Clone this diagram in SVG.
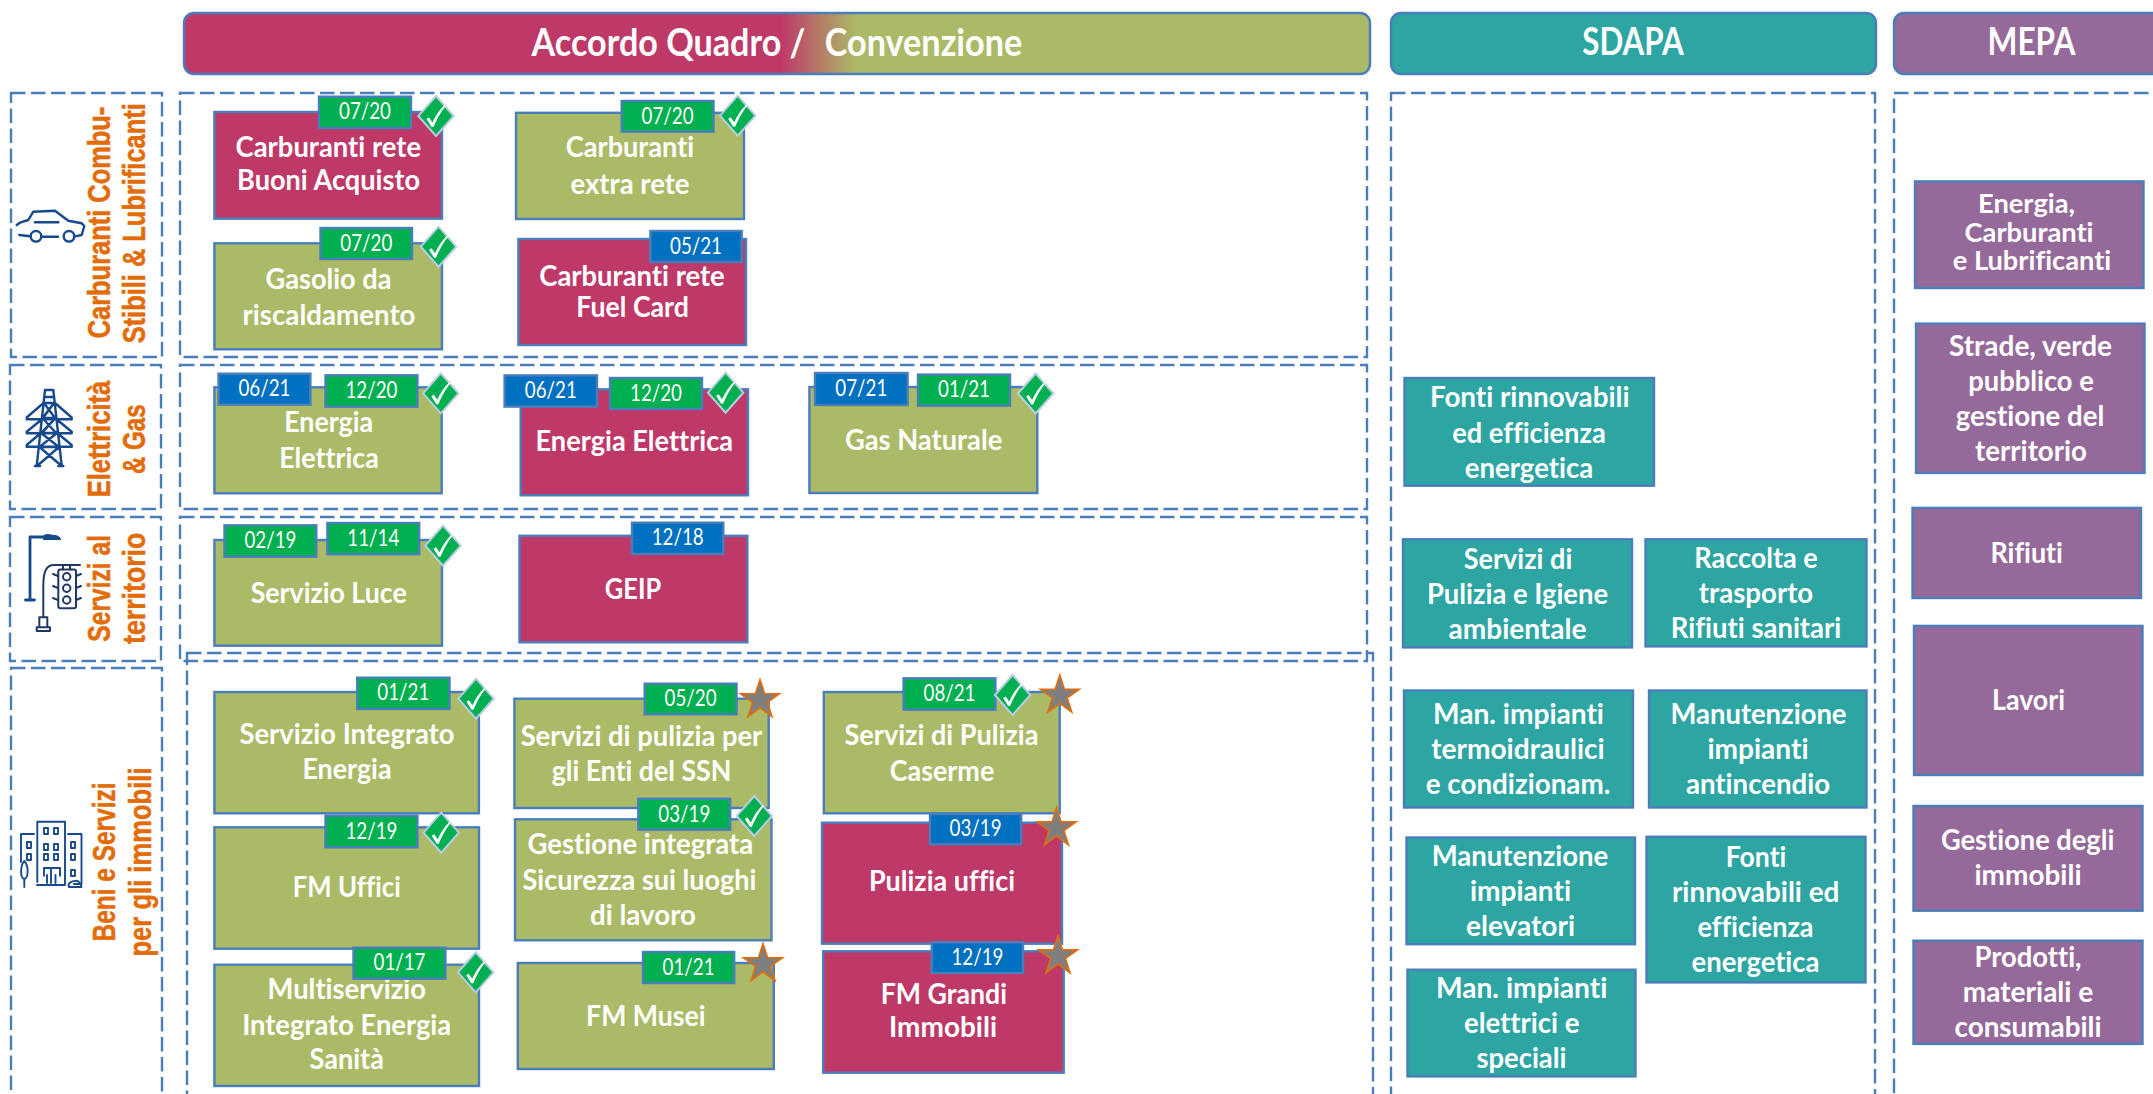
<svg xmlns="http://www.w3.org/2000/svg" xmlns:xlink="http://www.w3.org/1999/xlink" width="2153" height="1094" viewBox="0 0 2153 1094">
<style>
.red{fill:#BE3868;stroke:#4A7EBB;stroke-width:2.4}
.olv{fill:#ABBA66;stroke:#4A7EBB;stroke-width:2.4}
.tea{fill:#2DA5A3;stroke:#4A7EBB;stroke-width:2.4}
.pur{fill:#956A9A;stroke:#4A7EBB;stroke-width:2.4}
.g{fill:#00B050;stroke:#4A7EBB;stroke-width:2.4}
.bl{fill:#0070C0;stroke:#4A7EBB;stroke-width:2.4}
.f{fill:none;stroke:#4A7EBB;stroke-width:2.4;stroke-dasharray:14.5 5.5}
text{font-family:Lato,"Open Sans",sans-serif;fill:#fff;text-anchor:middle;font-variant-ligatures:none}
.t{font-size:29px;font-weight:700}
.c{font-size:26px;font-weight:700}
.b{font-size:24px;font-weight:400}
.h{font-size:38px;font-weight:700}
.s{font-family:"Liberation Sans",Arial,sans-serif;font-size:31px;font-weight:700;fill:#E36C0A;stroke:#E36C0A;stroke-width:.5}
.i{fill:none;stroke:#174A8C;stroke-width:2.4;stroke-linecap:round;stroke-linejoin:round}
</style>
<defs>
<linearGradient id="aq" x1="0" x2="1" y1="0" y2="0"><stop offset="0.503" stop-color="#BE3868"/><stop offset="0.567" stop-color="#ABBA66"/></linearGradient>
<g id="chk"><path d="M0-20 17.7 0 0 20-17.7 0Z" fill="#00B050" stroke="#B9CDE5" stroke-width="2"/><path d="M-9.5 3-7 1.5-3.5 6.5C-.5 0 3-6 8.5-11L9.5-10C4-3 .5 4-2.5 11L-4.5 11Z" fill="#fff"/></g>
<path id="star" d="M0-20.5 4.6-6.3 19.5-6.3 7.4 2.4 12 16.6 0 7.8-12 16.6-7.4 2.4-19.5-6.3-4.6-6.3Z" fill="#7F7F7F" stroke="#E36C0A" stroke-width="1.6"/>
</defs>
<g id="frames">
<rect class="f" x="11" y="93" width="151" height="264"/>
<rect class="f" x="180" y="93" width="1187" height="264"/>
<rect class="f" x="10" y="365" width="151" height="144"/>
<rect class="f" x="180" y="365" width="1187" height="144"/>
<rect class="f" x="10" y="517" width="151" height="144"/>
<rect class="f" x="180" y="517" width="1187" height="144"/>
<rect class="f" x="11" y="668" width="151" height="460"/>
<rect class="f" x="187" y="653" width="1186" height="470"/>
<rect class="f" x="1391" y="93" width="484" height="1030"/>
<rect class="f" x="1894" y="93" width="300" height="1030"/>
</g>
<g id="head-aq"><rect x="184" y="13" width="1186" height="61" rx="10" fill="url(#aq)" stroke="#4A7EBB" stroke-width="2.4"/><text class="h" x="668.5" y="56" textLength="274" lengthAdjust="spacingAndGlyphs">Accordo Quadro /</text><text class="h" x="923.5" y="56" textLength="197.5" lengthAdjust="spacingAndGlyphs">Convenzione</text></g>
<g id="head-sdapa"><rect class="tea" x="1391" y="13" width="485" height="61" rx="10"/><text class="h" x="1633" y="55.4" textLength="101.5" lengthAdjust="spacingAndGlyphs">SDAPA</text></g>
<g id="head-mepa"><rect class="pur" x="1894" y="13" width="300" height="61" rx="10"/><text class="h" x="2031.5" y="55.4" textLength="88" lengthAdjust="spacingAndGlyphs">MEPA</text></g>

<g id="cat-carburanti">
<text class="s" transform="translate(110 222.5) rotate(-90)" textLength="231.6" lengthAdjust="spacingAndGlyphs">Carburanti Combu-</text>
<text class="s" transform="translate(145 223.3) rotate(-90)" textLength="240" lengthAdjust="spacingAndGlyphs">Stibili &amp; Lubrificanti</text>
<path class="i" d="M16.7 225 20 222.7 28.3 220 33.3 211.7 55 210.7 68.3 220.7 81.7 223.3 84.3 226 81.7 235 74 236.7M58 236.7H43M30 236.3 19.3 235Z"/>
<circle class="i" cx="36" cy="236.3" r="5.3"/><circle class="i" cx="69" cy="236.3" r="5.3"/><path class="i" d="M35 222.3H58.3"/>
</g>
<g id="cat-elettricita">
<text class="s" transform="translate(110 439) rotate(-90)" textLength="116.7" lengthAdjust="spacingAndGlyphs">Elettricità</text>
<text class="s" transform="translate(145 439.2) rotate(-90)" textLength="69.7" lengthAdjust="spacingAndGlyphs">&amp; Gas</text>
<path class="i" d="M45 390H53.3L61.7 466M45 390 36.7 466M35 466H40M58.300 466H63.300M43.500 403 26.700 417.500V419.300H71.700V417.500L55 403M43.500 418 26.700 431.800V433.300H71.700V431.800L55 418M42 432 26.700 445V446.700H71.700V445L56 432M45 397H53.300M44 403H54L42.500 418H55.500L41 433H57L39.500 447H59L37 466M54 403 43 418M44 403 55 418M55.500 418 42 433M42.500 418 56 433M57 433 39.500 447M41 433 59 447M39.500 447 61.700 466"/>
</g>
<g id="cat-servizi">
<text class="s" transform="translate(110 588.3) rotate(-90)" textLength="106.700" lengthAdjust="spacingAndGlyphs">Servizi al</text>
<text class="s" transform="translate(145 588.300) rotate(-90)" textLength="111.300" lengthAdjust="spacingAndGlyphs">territorio</text>
<path class="i" style="stroke-width:2.800" d="M30 600V537H45M25.500 600H34.500"/><path d="M43 537C44 533 49 534 53 535 58 535 61 537 61 540H43Z" fill="#174A8C"/>
<path class="i" style="stroke:#1F3864;stroke-width:2" d="M43.300 617V586C43.300 570 47 565 54 565H80M63 565V569.500M70 565V569.500"/>
<rect class="i" style="stroke:#1F3864;stroke-width:2" x="58.300" y="569.500" width="17.700" height="38.700" rx="2"/>
<g class="i" style="stroke:#1F3864;stroke-width:2"><circle cx="66.700" cy="576.700" r="3.700"/><circle cx="66.700" cy="588.300" r="3.700"/><circle cx="66.700" cy="600" r="3.700"/><path d="M58 576 53 574M76 576 81 574M58 588 53 586M76 588 81 586M58 600 53 598M76 600 81 598"/><path d="M39.300 617.300H47.300V627.300H39.300ZM36.700 627.300H50V631H36.700Z"/></g>
</g>
<g id="cat-beni">
<text class="s" transform="translate(114.800 862) rotate(-90)" textLength="159" lengthAdjust="spacingAndGlyphs">Beni e Servizi</text>
<text class="s" transform="translate(151 862) rotate(-90)" textLength="189" lengthAdjust="spacingAndGlyphs">per gli immobili</text>
<g class="i" style="stroke-width:1.900"><path d="M37.300 882V821.700H65V884M37 885H65M21 862V834H34M68 834H81.500V884H74"/><path d="M44 875.700V868H60V875.700M51 868V883M47 875V883M55.500 875V883"/><rect x="44" y="828" width="4" height="6"/><rect x="54" y="828" width="4" height="6"/><rect x="44" y="844" width="4" height="6"/><rect x="54" y="844" width="4" height="6"/><rect x="44" y="854" width="4" height="6"/><rect x="54" y="854" width="4" height="6"/><rect x="27" y="842" width="4" height="6"/><rect x="27" y="854" width="4" height="6"/><rect x="71" y="842" width="4" height="6"/><rect x="71" y="854" width="4" height="6"/><rect x="71" y="870" width="4" height="6"/><path d="M24.300 861C20 866 20 878 24.300 879 28.500 878 29 866 24.300 861ZM24.300 879V887M69 887C67 883 72 881 75 881 78 880 81 883 81.500 887Z"/></g>
</g>

<g id="n-buoni"><rect class="red" x="214.400" y="112" width="227.600" height="106.700"/><text class="t" x="328.300" y="157.300" textLength="185.500" lengthAdjust="spacingAndGlyphs">Carburanti rete</text><text class="t" x="328.500" y="190" textLength="183" lengthAdjust="spacingAndGlyphs">Buoni Acquisto</text><rect class="g" x="319" y="96.700" width="92" height="31.300"/><text class="b" x="365" y="119.300" textLength="52" lengthAdjust="spacingAndGlyphs">07/20</text><use xlink:href="#chk" href="#chk" x="436" y="116"/></g>
<g id="n-gasolio"><rect class="olv" x="214.400" y="243.300" width="227.600" height="106"/><text class="t" x="328.500" y="288.700" textLength="126" lengthAdjust="spacingAndGlyphs">Gasolio da</text><text class="t" x="329" y="325" textLength="173" lengthAdjust="spacingAndGlyphs">riscaldamento</text><rect class="g" x="320.500" y="228" width="91.500" height="31"/><text class="b" x="366.300" y="250.500" textLength="52" lengthAdjust="spacingAndGlyphs">07/20</text><use href="#chk" x="438.500" y="246.700"/></g>
<g id="n-extra"><rect class="olv" x="516" y="112.800" width="228" height="106.200"/><text class="t" x="630" y="157" textLength="128.500" lengthAdjust="spacingAndGlyphs">Carburanti</text><text class="t" x="630" y="194" textLength="119" lengthAdjust="spacingAndGlyphs">extra rete</text><rect class="g" x="621.700" y="101" width="91.800" height="30.700"/><text class="b" x="667.600" y="123.500" textLength="52" lengthAdjust="spacingAndGlyphs">07/20</text><use href="#chk" x="737.700" y="115.700"/></g>
<g id="n-fuel"><rect class="red" x="518.400" y="239" width="227.600" height="106"/><text class="t" x="632" y="285.500" textLength="185.500" lengthAdjust="spacingAndGlyphs">Carburanti rete</text><text class="t" x="632.600" y="316.500" textLength="112.500" lengthAdjust="spacingAndGlyphs">Fuel Card</text><rect class="bl" x="650.400" y="231" width="91.300" height="31"/><text class="b" x="696" y="254" textLength="52" lengthAdjust="spacingAndGlyphs">05/21</text></g>

<g id="n-ee1"><rect class="olv" x="214.400" y="387.300" width="227.300" height="106"/><text class="t" x="328.700" y="432.300" textLength="89" lengthAdjust="spacingAndGlyphs">Energia</text><text class="t" x="329" y="467.700" textLength="99.600" lengthAdjust="spacingAndGlyphs">Elettrica</text><rect class="bl" x="218.500" y="373.700" width="91.900" height="31"/><text class="b" x="264.400" y="396.300" textLength="52" lengthAdjust="spacingAndGlyphs">06/21</text><rect class="g" x="325.500" y="375.300" width="91.900" height="31.400"/><text class="b" x="371.400" y="398" textLength="52" lengthAdjust="spacingAndGlyphs">12/20</text><use href="#chk" x="440.800" y="393.300"/></g>
<g id="n-ee2"><rect class="red" x="520.700" y="389.300" width="227.300" height="106"/><text class="t" x="634.300" y="451.200" textLength="197.500" lengthAdjust="spacingAndGlyphs">Energia Elettrica</text><rect class="bl" x="504.600" y="375.400" width="92.400" height="31.200"/><text class="b" x="550.800" y="398" textLength="52" lengthAdjust="spacingAndGlyphs">06/21</text><rect class="g" x="610" y="378" width="92" height="31"/><text class="b" x="656" y="400.500" textLength="52" lengthAdjust="spacingAndGlyphs">12/20</text><use href="#chk" x="725.600" y="392.700"/></g>
<g id="n-gas"><rect class="olv" x="809.400" y="387" width="227.900" height="106"/><text class="t" x="923.600" y="450.300" textLength="157.300" lengthAdjust="spacingAndGlyphs">Gas Naturale</text><rect class="bl" x="815" y="373" width="92.600" height="32"/><text class="b" x="861.300" y="396" textLength="52" lengthAdjust="spacingAndGlyphs">07/21</text><rect class="g" x="918" y="374.600" width="92" height="31.100"/><text class="b" x="964" y="397.200" textLength="52" lengthAdjust="spacingAndGlyphs">01/21</text><use href="#chk" x="1035.600" y="393.500"/></g>

<g id="n-luce"><rect class="olv" x="214.400" y="540" width="227.600" height="105.700"/><text class="t" x="328.700" y="602.700" textLength="156" lengthAdjust="spacingAndGlyphs">Servizio Luce</text><rect class="g" x="224.500" y="525.300" width="91.800" height="31.400"/><text class="b" x="270.400" y="548" textLength="52" lengthAdjust="spacingAndGlyphs">02/19</text><rect class="g" x="327.400" y="523" width="91.800" height="31.300"/><text class="b" x="373.300" y="545.500" textLength="52" lengthAdjust="spacingAndGlyphs">11/14</text><use href="#chk" x="443" y="545.700"/></g>
<g id="n-geip"><rect class="red" x="519.500" y="535.800" width="227.900" height="106.500"/><text class="t" x="633" y="598.500" textLength="56.300" lengthAdjust="spacingAndGlyphs">GEIP</text><rect class="bl" x="632" y="522.700" width="91.300" height="31.200"/><text class="b" x="677.700" y="545.300" textLength="52" lengthAdjust="spacingAndGlyphs">12/18</text></g>

<g id="n-sie"><rect class="olv" x="214.400" y="692" width="264.500" height="121.300"/><text class="t" x="347" y="744.300" textLength="215" lengthAdjust="spacingAndGlyphs">Servizio Integrato</text><text class="t" x="347" y="779.300" textLength="89" lengthAdjust="spacingAndGlyphs">Energia</text><rect class="g" x="357.200" y="677.700" width="92.300" height="31.300"/><text class="b" x="403.300" y="700.300" textLength="52" lengthAdjust="spacingAndGlyphs">01/21</text><use href="#chk" x="476" y="698.700"/></g>
<g id="n-fmuff"><rect class="olv" x="214.400" y="827.300" width="264.600" height="121.400"/><text class="t" x="346.700" y="897.300" textLength="108" lengthAdjust="spacingAndGlyphs">FM Uffici</text><rect class="g" x="325.500" y="815.700" width="91.900" height="31.600"/><text class="b" x="371.400" y="838.500" textLength="52" lengthAdjust="spacingAndGlyphs">12/19</text><use href="#chk" x="441.200" y="832.700"/></g>
<g id="n-mie"><rect class="olv" x="214.400" y="964.700" width="264.600" height="121.300"/><text class="t" x="346.800" y="999.300" textLength="158.400" lengthAdjust="spacingAndGlyphs">Multiservizio</text><text class="t" x="346.700" y="1035" textLength="209" lengthAdjust="spacingAndGlyphs">Integrato Energia</text><text class="t" x="346.700" y="1069.300" textLength="74.400" lengthAdjust="spacingAndGlyphs">Sanità</text><rect class="g" x="353.500" y="947.700" width="91.900" height="31"/><text class="b" x="399.500" y="970.300" textLength="52" lengthAdjust="spacingAndGlyphs">01/17</text><use href="#chk" x="475.700" y="972.300"/></g>
<g id="n-ssn"><rect class="olv" x="514.400" y="698.700" width="254.300" height="109.300"/><text class="t" x="641.500" y="746" textLength="241.700" lengthAdjust="spacingAndGlyphs">Servizi di pulizia per</text><text class="t" x="641.500" y="780.700" textLength="179.700" lengthAdjust="spacingAndGlyphs">gli Enti del SSN</text><rect class="g" x="644.700" y="683.700" width="91.800" height="30.600"/><text class="b" x="690.600" y="706" textLength="52" lengthAdjust="spacingAndGlyphs">05/20</text><use href="#star" x="760" y="700"/></g>
<g id="n-sic"><rect class="olv" x="515" y="819.300" width="256.500" height="121"/><text class="t" x="640.300" y="854" textLength="225.600" lengthAdjust="spacingAndGlyphs">Gestione integrata</text><text class="t" x="639.500" y="890" textLength="234" lengthAdjust="spacingAndGlyphs">Sicurezza sui luoghi</text><text class="t" x="643" y="924.700" textLength="106" lengthAdjust="spacingAndGlyphs">di lavoro</text><rect class="g" x="638.300" y="798.700" width="91.900" height="31"/><text class="b" x="684.300" y="821.500" textLength="52" lengthAdjust="spacingAndGlyphs">03/19</text><use href="#chk" x="754.300" y="816"/></g>
<g id="n-musei"><rect class="olv" x="517.800" y="963" width="256" height="106"/><text class="t" x="645.800" y="1025.700" textLength="119.400" lengthAdjust="spacingAndGlyphs">FM Musei</text><rect class="g" x="643" y="952" width="91.200" height="31"/><text class="b" x="688.600" y="974.500" textLength="52" lengthAdjust="spacingAndGlyphs">01/21</text><use href="#star" x="763" y="964"/></g>
<g id="n-caserme"><rect class="olv" x="823.800" y="692" width="235.900" height="121.300"/><text class="t" x="941.500" y="744.700" textLength="194" lengthAdjust="spacingAndGlyphs">Servizi di Pulizia</text><text class="t" x="942" y="780.700" textLength="104.500" lengthAdjust="spacingAndGlyphs">Caserme</text><rect class="g" x="903.600" y="678.300" width="91.800" height="31.400"/><text class="b" x="949.500" y="701" textLength="52" lengthAdjust="spacingAndGlyphs">08/21</text><use href="#chk" x="1012.600" y="695"/><use href="#star" x="1059.800" y="695.500"/></g>
<g id="n-pulizia"><rect class="red" x="822" y="822.700" width="240" height="121"/><text class="t" x="942" y="891.300" textLength="146" lengthAdjust="spacingAndGlyphs">Pulizia uffici</text><rect class="bl" x="930" y="814" width="91.200" height="30.300"/><text class="b" x="975.600" y="836.300" textLength="52" lengthAdjust="spacingAndGlyphs">03/19</text><use href="#star" x="1056.500" y="828.200"/></g>
<g id="n-grandi"><rect class="red" x="823.200" y="951.300" width="240.500" height="121.400"/><text class="t" x="943.800" y="1004.300" textLength="126.300" lengthAdjust="spacingAndGlyphs">FM Grandi</text><text class="t" x="943" y="1036.700" textLength="108" lengthAdjust="spacingAndGlyphs">Immobili</text><rect class="bl" x="931.700" y="942.300" width="91.300" height="30.700"/><text class="b" x="977.400" y="964.700" textLength="52" lengthAdjust="spacingAndGlyphs">12/19</text><use href="#star" x="1058" y="956.200"/></g>

<g id="s-fonti1"><rect class="tea" x="1404.500" y="378" width="249.500" height="107.700"/><text class="t" x="1529.700" y="407" textLength="199.500" lengthAdjust="spacingAndGlyphs">Fonti rinnovabili</text><text class="t" x="1529" y="442.900" textLength="153.500" lengthAdjust="spacingAndGlyphs">ed efficienza</text><text class="t" x="1529" y="477.500" textLength="128.500" lengthAdjust="spacingAndGlyphs">energetica</text></g>
<g id="s-pulizia"><rect class="tea" x="1403" y="539.300" width="229" height="108.100"/><text class="t" x="1518" y="569" textLength="108.500" lengthAdjust="spacingAndGlyphs">Servizi di</text><text class="t" x="1517.500" y="604" textLength="181" lengthAdjust="spacingAndGlyphs">Pulizia e Igiene</text><text class="t" x="1517.500" y="639" textLength="138" lengthAdjust="spacingAndGlyphs">ambientale</text></g>
<g id="s-rifiuti"><rect class="tea" x="1645.500" y="539.300" width="221" height="107.100"/><text class="t" x="1756" y="568.300" textLength="123.500" lengthAdjust="spacingAndGlyphs">Raccolta e</text><text class="t" x="1756" y="602.500" textLength="114.500" lengthAdjust="spacingAndGlyphs">trasporto</text><text class="t" x="1756" y="637.500" textLength="170.500" lengthAdjust="spacingAndGlyphs">Rifiuti sanitari</text></g>
<g id="s-termo"><rect class="tea" x="1404" y="690.500" width="229" height="117"/><text class="t" x="1518.500" y="724" textLength="171" lengthAdjust="spacingAndGlyphs">Man. impianti</text><text class="t" x="1518" y="759" textLength="173.500" lengthAdjust="spacingAndGlyphs">termoidraulici</text><text class="t" x="1518" y="794" textLength="184.500" lengthAdjust="spacingAndGlyphs">e condizionam.</text></g>
<g id="s-antinc"><rect class="tea" x="1649" y="690.500" width="217.500" height="117"/><text class="t" x="1758.500" y="724" textLength="176" lengthAdjust="spacingAndGlyphs">Manutenzione</text><text class="t" x="1758" y="759" textLength="101" lengthAdjust="spacingAndGlyphs">impianti</text><text class="t" x="1758" y="794" textLength="144" lengthAdjust="spacingAndGlyphs">antincendio</text></g>
<g id="s-elev"><rect class="tea" x="1406.500" y="837.500" width="228.500" height="106.700"/><text class="t" x="1520" y="865.800" textLength="176.500" lengthAdjust="spacingAndGlyphs">Manutenzione</text><text class="t" x="1520.500" y="900.800" textLength="101" lengthAdjust="spacingAndGlyphs">impianti</text><text class="t" x="1520.500" y="935.800" textLength="109" lengthAdjust="spacingAndGlyphs">elevatori</text></g>
<g id="s-fonti2"><rect class="tea" x="1646.500" y="836.800" width="219" height="145.600"/><text class="t" x="1756" y="867.200" textLength="60.500" lengthAdjust="spacingAndGlyphs">Fonti</text><text class="t" x="1755.700" y="902.200" textLength="167.500" lengthAdjust="spacingAndGlyphs">rinnovabili ed</text><text class="t" x="1755.500" y="937.200" textLength="116" lengthAdjust="spacingAndGlyphs">efficienza</text><text class="t" x="1755.500" y="971.800" textLength="128" lengthAdjust="spacingAndGlyphs">energetica</text></g>
<g id="s-elet"><rect class="tea" x="1407.500" y="969.700" width="228" height="106.700"/><text class="t" x="1521.700" y="997.600" textLength="171.500" lengthAdjust="spacingAndGlyphs">Man. impianti</text><text class="t" x="1521.700" y="1032.600" textLength="115.500" lengthAdjust="spacingAndGlyphs">elettrici e</text><text class="t" x="1521.500" y="1067.600" textLength="90" lengthAdjust="spacingAndGlyphs">speciali</text></g>

<g id="m-energia"><rect class="pur" x="1915" y="181.400" width="228.500" height="106.600"/><text class="c" x="2026.500" y="212.900" textLength="97" lengthAdjust="spacingAndGlyphs">Energia,</text><text class="c" x="2029" y="241.800" textLength="129" lengthAdjust="spacingAndGlyphs">Carburanti</text><text class="c" x="2032" y="269.600" textLength="158.500" lengthAdjust="spacingAndGlyphs">e Lubrificanti</text></g>
<g id="m-strade"><rect class="pur" x="1916" y="323.600" width="228.500" height="149.300"/><text class="t" x="2030.500" y="355.700" textLength="163" lengthAdjust="spacingAndGlyphs">Strade, verde</text><text class="t" x="2031" y="390.700" textLength="125.500" lengthAdjust="spacingAndGlyphs">pubblico e</text><text class="t" x="2030" y="425.700" textLength="148.500" lengthAdjust="spacingAndGlyphs">gestione del</text><text class="t" x="2031" y="460.700" textLength="112" lengthAdjust="spacingAndGlyphs">territorio</text></g>
<g id="m-rifiuti"><rect class="pur" x="1912.500" y="507.900" width="228.500" height="90.100"/><text class="t" x="2026.700" y="563" textLength="72.500" lengthAdjust="spacingAndGlyphs">Rifiuti</text></g>
<g id="m-lavori"><rect class="pur" x="1914" y="625.900" width="228.500" height="149.100"/><text class="t" x="2028.500" y="710.300" textLength="73" lengthAdjust="spacingAndGlyphs">Lavori</text></g>
<g id="m-gestione"><rect class="pur" x="1913.500" y="806" width="229" height="104.700"/><text class="t" x="2027.700" y="850.200" textLength="173.500" lengthAdjust="spacingAndGlyphs">Gestione degli</text><text class="t" x="2028" y="885.200" textLength="107" lengthAdjust="spacingAndGlyphs">immobili</text></g>
<g id="m-prodotti"><rect class="pur" x="1913.500" y="940.700" width="229" height="103.200"/><text class="t" x="2028" y="966.900" textLength="107" lengthAdjust="spacingAndGlyphs">Prodotti,</text><text class="t" x="2028" y="1001.800" textLength="130.500" lengthAdjust="spacingAndGlyphs">materiali e</text><text class="t" x="2028" y="1037.200" textLength="147" lengthAdjust="spacingAndGlyphs">consumabili</text></g>
</svg>
